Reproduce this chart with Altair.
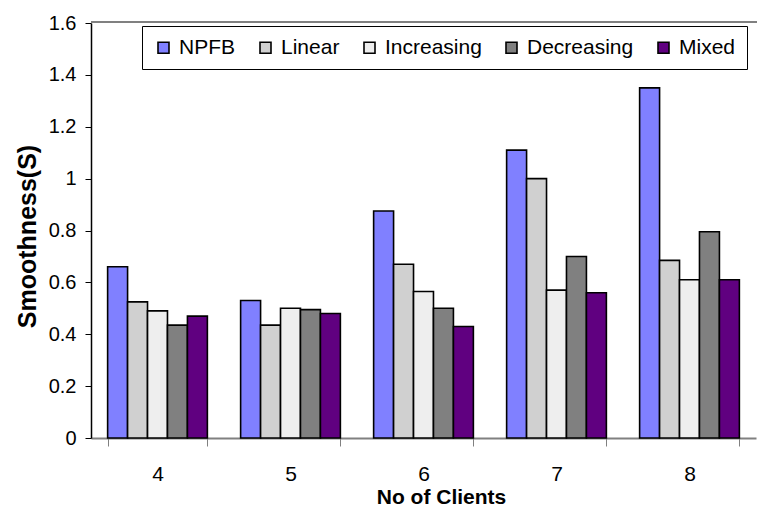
import altair as alt
import pandas as pd

# Smoothness per number of clients for each scheme
clients = ["4", "5", "6", "7", "8"]
series = ["NPFB", "Linear", "Increasing", "Decreasing", "Mixed"]
npfb = [0.66, 0.53, 0.875, 1.11, 1.35]
linear = [0.525, 0.435, 0.67, 1.0, 0.685]
increasing = [0.49, 0.50, 0.565, 0.57, 0.61]
decreasing = [0.435, 0.495, 0.50, 0.70, 0.795]
mixed = [0.47, 0.48, 0.43, 0.56, 0.61]
y_ticks = [0, 0.2, 0.4, 0.6, 0.8, 1.0, 1.2, 1.4, 1.6]
colors = ["#8080FF", "#D0D0D0", "#EEEEEE", "#808080", "#600080"]

values = [npfb, linear, increasing, decreasing, mixed]
rows = []
for name, vals in zip(series, values):
    for c, v in zip(clients, vals):
        rows.append({"clients": c, "series": name, "smoothness": v})
df = pd.DataFrame(rows)

W, H = 665, 415
FONT = "Liberation Sans"

bars = alt.Chart(df).mark_bar(stroke="black", strokeWidth=1.6).encode(
    x=alt.X(
        "clients:N",
        sort=clients,
        scale=alt.Scale(paddingInner=0.25, paddingOuter=0.125),
        axis=alt.Axis(
            title="No of Clients",
            labelAngle=0,
            tickBand="extent",
            tickSize=8,
            tickColor="#808080",
            domainColor="#808080",
            domainWidth=2,
            labelPadding=17,
            labelFontSize=21,
            titleFontSize=21,
            titleX=350,
            titleY=65,
            titleBaseline="alphabetic",
        ),
    ),
    xOffset=alt.XOffset("series:N", sort=series, scale=alt.Scale(paddingInner=0)),
    y=alt.Y(
        "smoothness:Q",
        scale=alt.Scale(domain=[0, 1.6]),
        axis=alt.Axis(
            title="Smoothness(S)",
            values=y_ticks,
            format=".1~f",
            grid=False,
            tickSize=6,
            tickColor="black",
            domainColor="black",
            domainWidth=1.5,
            labelPadding=9,
            labelFontSize=20,
            titleFontSize=25,
            titleX=-64,
            titleY=213,
            titleAlign="center",
            titleBaseline="middle",
        ),
    ),
    color=alt.Color(
        "series:N",
        sort=series,
        scale=alt.Scale(domain=series, range=colors),
        legend=alt.Legend(
            title=None,
            orient="none",
            legendX=51,
            legendY=3,
            direction="horizontal",
            symbolType="square",
            symbolSize=121,
            symbolStrokeColor="black",
            symbolStrokeWidth=1.6,
            labelFontSize=21,
            labelOffset=5,
            columnPadding=19,
            fillColor="white",
            strokeColor="black",
            padding=11,
        ),
    ),
)

top_line = alt.Chart(df).mark_rule(color="#808080", strokeWidth=2).encode(
    y=alt.value(-1), x=alt.value(0), x2=alt.value(W + 2)
)

chart = (
    alt.layer(bars, top_line)
    .properties(
        width=W,
        height=H,
        autosize=alt.AutoSizeParams(type="none"),
        padding={"left": 91, "top": 23, "right": 1, "bottom": 69},
        background="white",
    )
    .configure_view(stroke=None)
    .configure_axis(
        labelFont=FONT,
        titleFont=FONT,
        labelColor="black",
        titleColor="black",
        titleFontWeight="bold",
    )
    .configure_legend(labelFont=FONT, labelColor="black")
)

chart.save("out.html", embed_options={"renderer": "svg", "actions": False})
